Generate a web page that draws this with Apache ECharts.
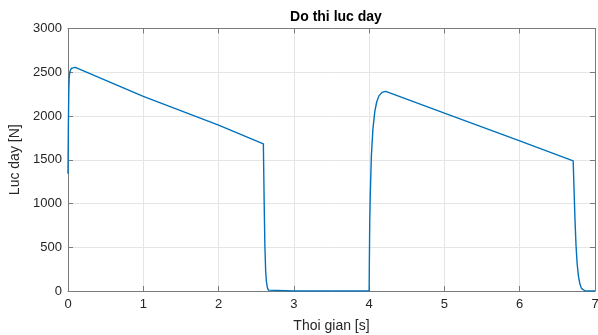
<!DOCTYPE html>
<html>
<head>
<meta charset="utf-8">
<script src="https://cdn.jsdelivr.net/npm/echarts@6/dist/echarts.min.js"></script>
<style>
  html, body { margin: 0; padding: 0; background: #fff; }
  #chart { width: 598px; height: 335px; }
</style>
</head>
<body>
<div id="chart"></div>
<script>
// Thrust force over time: two pulses
const time = [
  0.000, 0.005, 0.010, 0.015, 0.020, 0.030, 0.045, 0.065, 0.090, 0.120,
  1.000, 2.000, 2.595, 2.605, 2.615, 2.625, 2.635, 2.648, 2.662, 2.680,
  3.000, 4.000, 4.003, 4.008, 4.015, 4.030, 4.050, 4.075, 4.100, 4.130,
  4.170, 4.220, 5.000, 6.000, 6.710, 6.722, 6.735, 6.748, 6.762, 6.780,
  6.800, 6.820, 6.845, 6.870, 7.000
];
const force = [
  1340, 1900, 2250, 2420, 2480, 2520, 2545, 2555, 2555, 2548,
  2225, 1895, 1682, 1050, 520, 240, 110, 40, 10, 0,
  0, 0, 350, 800, 1100, 1550, 1850, 2050, 2160, 2230,
  2270, 2282, 2032, 1715, 1488, 1150, 800, 520, 320, 170,
  80, 30, 8, 0, 0
];
const xTicks = [0, 1, 2, 3, 4, 5, 6, 7];
const yTicks = [0, 500, 1000, 1500, 2000, 2500, 3000];

const axisColor = '#7a7a7a';
const gridColor = '#e5e5e5';
const textColor = '#262626';
const font = 'Liberation Sans, Arial, sans-serif';

const chart = echarts.init(document.getElementById('chart'), null, { renderer: 'canvas' });

const baseAxis = {
  axisLine: { show: true, onZero: false, lineStyle: { color: axisColor, width: 1 } },
  axisTick: { show: true, inside: true, length: 5, lineStyle: { color: axisColor } },
  splitLine: { show: false }
};

chart.setOption({
  animation: false,
  backgroundColor: '#fff',
  title: {
    text: 'Do thi luc day',
    left: 331,
    textAlign: 'center',
    top: 5,
    textStyle: { fontFamily: font, fontSize: 14, fontWeight: 'bold', color: '#000' }
  },
  grid: { left: 68, right: 3, top: 28.5, bottom: 44, containLabel: false, outerBoundsMode: 'none' },
  xAxis: [
    Object.assign({}, baseAxis, {
      type: 'value', position: 'bottom',
      min: xTicks[0], max: xTicks[xTicks.length - 1], interval: 1,
      name: 'Thoi gian [s]', nameLocation: 'middle', nameGap: 28,
      nameTextStyle: { fontFamily: font, fontSize: 14, color: textColor },
      axisLabel: { fontFamily: font, fontSize: 13, color: textColor, margin: 7, formatter: v => String(v) },
      splitLine: { show: true, lineStyle: { color: gridColor, width: 1 } }
    }),
    Object.assign({}, baseAxis, {
      type: 'value', position: 'top',
      min: xTicks[0], max: xTicks[xTicks.length - 1], interval: 1,
      axisLabel: { show: false }
    })
  ],
  yAxis: [
    Object.assign({}, baseAxis, {
      type: 'value', position: 'left',
      min: yTicks[0], max: yTicks[yTicks.length - 1], interval: 500,
      name: 'Luc day [N]', nameLocation: 'middle', nameGap: 44,
      nameTextStyle: { fontFamily: font, fontSize: 14, color: textColor },
      axisLabel: { fontFamily: font, fontSize: 13, color: textColor, margin: 6, formatter: v => String(v) },
      splitLine: { show: true, lineStyle: { color: gridColor, width: 1 } }
    }),
    Object.assign({}, baseAxis, {
      type: 'value', position: 'right',
      min: yTicks[0], max: yTicks[yTicks.length - 1], interval: 500,
      axisLabel: { show: false }
    })
  ],
  series: [{
    type: 'line',
    xAxisIndex: 0,
    yAxisIndex: 0,
    data: time.map((t, i) => [t, force[i]]),
    showSymbol: false,
    smooth: false,
    clip: true,
    lineStyle: { color: '#0072BD', width: 1.4 },
    z: 5
  }]
});
</script>
</body>
</html>
